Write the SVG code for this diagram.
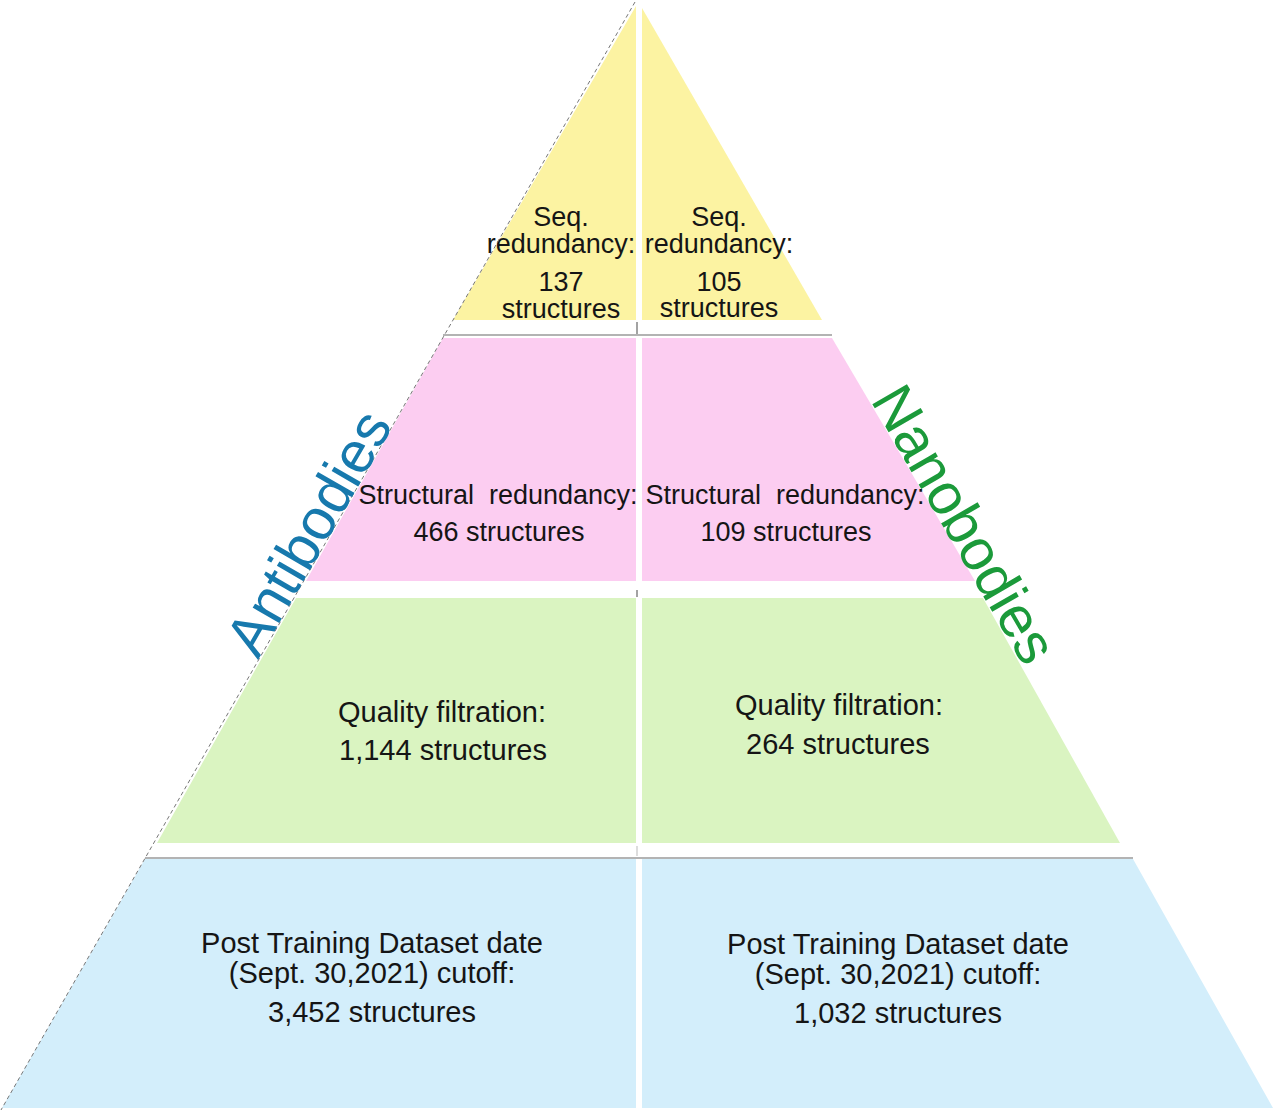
<svg xmlns="http://www.w3.org/2000/svg" width="1280" height="1114" viewBox="0 0 1280 1114">
<style>
.t{font-family:"Liberation Sans",Arial,sans-serif;font-size:27px;fill:#151515;text-anchor:middle;white-space:pre}
.L{font-size:29px}
.y{fill:#FCF3A2}
.p{fill:#FCCDF1}
.g{fill:#DAF4C1}
.b{fill:#D3EEFB}
.side{font-family:"Liberation Sans",Arial,sans-serif;font-size:58px}
.sep{stroke:#9a9a9a;stroke-width:1.5;fill:none}
</style>
<rect width="1280" height="1114" fill="#ffffff"/>

<g id="ab-seq">
<polygon class="y" points="636,6 636,320 453,320"/>
<text class="t" x="561" y="226">Seq.</text>
<text class="t" x="561" y="253">redundancy:</text>
<text class="t" x="561" y="291">137</text>
<text class="t" x="561" y="318">structures</text>
</g>
<g id="nb-seq">
<polygon class="y" points="642,8 822,320 642,320"/>
<text class="t" x="719" y="226">Seq.</text>
<text class="t" x="719" y="253">redundancy:</text>
<text class="t" x="719" y="291">105</text>
<text class="t" x="719" y="317">structures</text>
</g>

<g id="ab-struct">
<polygon class="p" points="443,338 636,338 636,581 306,581"/>
<text class="t" x="498" y="504">Structural  redundancy:</text>
<text class="t" x="499" y="541">466 structures</text>
</g>
<g id="nb-struct">
<polygon class="p" points="642,338 832,338 975,581 642,581"/>
<text class="t" x="785" y="504">Structural  redundancy:</text>
<text class="t" x="786" y="541">109 structures</text>
</g>

<g id="ab-quality">
<polygon class="g" points="296,598 636,598 636,843 157,843"/>
<text class="t L" x="442" y="722">Quality filtration:</text>
<text class="t L" x="443" y="760">1,144 structures</text>
</g>
<g id="nb-quality">
<polygon class="g" points="642,598 983,598 1120,843 642,843"/>
<text class="t L" x="839" y="715">Quality filtration:</text>
<text class="t L" x="838" y="754">264 structures</text>
</g>

<g id="ab-cutoff">
<polygon class="b" points="145,859 636,859 636,1108 2,1108"/>
<text class="t L" x="372" y="953">Post Training Dataset date</text>
<text class="t L" x="372" y="983">(Sept. 30,2021) cutoff:</text>
<text class="t L" x="372" y="1022">3,452 structures</text>
</g>
<g id="nb-cutoff">
<polygon class="b" points="642,859 1133,859 1273,1108 642,1108"/>
<text class="t L" x="898" y="954">Post Training Dataset date</text>
<text class="t L" x="898" y="984">(Sept. 30,2021) cutoff:</text>
<text class="t L" x="898" y="1023">1,032 structures</text>
</g>

<g id="connectors">
<line class="sep" x1="443" y1="335" x2="832" y2="335"/>
<line class="sep" x1="145" y1="858" x2="1133" y2="858"/>
<line x1="635" y1="2" x2="1" y2="1110" stroke="#777" stroke-width="1" stroke-dasharray="4 3"/>
<line x1="637" y1="322" x2="637" y2="334" stroke="#666" stroke-width="1.2"/>
<line x1="637" y1="590" x2="637" y2="597" stroke="#666" stroke-width="1.2"/>
<line x1="637" y1="846" x2="637" y2="856" stroke="#bbb" stroke-width="1"/>
</g>

<g id="label-antibodies">
<text class="side" fill="#1779AD" transform="translate(258,660) rotate(-60)">Antibodies</text>
</g>
<g id="label-nanobodies">
<text class="side" fill="#1B9A3A" transform="translate(870,400) rotate(60)">Nanobodies</text>
</g>
</svg>
